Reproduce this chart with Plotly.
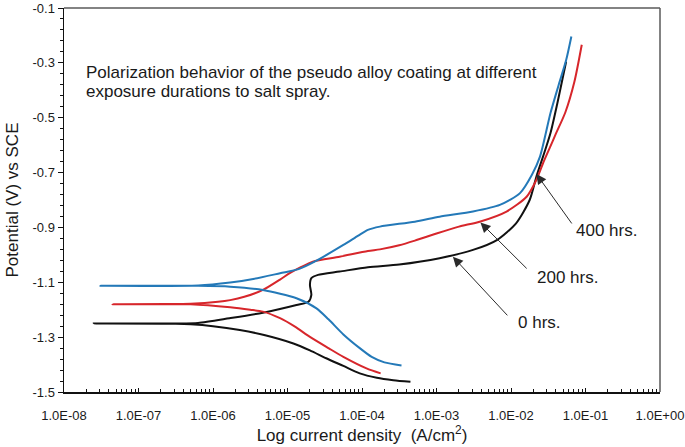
import math
import plotly.graph_objects as go

# ---------------- data (current density A/cm^2, potential V vs SCE) ----------------
# 0 hrs (black)
i0_anodic = [2.51e-8, 3.16e-7, 6.31e-7, 1.66e-6, 4.68e-6, 1.32e-5, 1.91e-5, 2.09e-5, 2.0e-5, 2.09e-5,
             2.57e-5, 5.01e-5, 1.20e-4, 3.16e-4, 1.10e-3, 3.09e-3, 6.46e-3, 1.17e-2, 1.78e-2, 2.19e-2,
             2.69e-2, 3.39e-2, 4.17e-2, 4.90e-2, 5.50e-2]
e0_anodic = [-1.250, -1.250, -1.248, -1.231, -1.211, -1.183, -1.171, -1.146, -1.110, -1.085,
             -1.073, -1.061, -1.045, -1.035, -1.012, -0.982, -0.946, -0.885, -0.800, -0.715,
             -0.642, -0.556, -0.450, -0.360, -0.295]
i0_cathodic = [2.51e-8, 3.16e-7, 5.01e-7, 1.0e-6, 2.29e-6, 5.01e-6, 1.20e-5, 2.0e-5, 3.31e-5, 5.62e-5,
               9.33e-5, 1.58e-4, 2.63e-4, 4.47e-4]
e0_cathodic = [-1.250, -1.251, -1.253, -1.260, -1.274, -1.293, -1.323, -1.348, -1.377, -1.405,
               -1.432, -1.448, -1.457, -1.463]

# 200 hrs (red)
i200_anodic = [4.47e-8, 5.01e-7, 1.17e-6, 1.70e-6, 2.63e-6, 4.68e-6, 7.94e-6, 1.07e-5, 1.51e-5, 2.19e-5,
               5.01e-5, 1.20e-4, 1.74e-4, 3.16e-4, 5.13e-4, 1.0e-3, 2.0e-3, 3.80e-3, 8.71e-3, 1.62e-2,
               2.19e-2, 2.69e-2, 3.31e-2, 3.98e-2, 5.37e-2, 7.08e-2, 8.91e-2]
e200_anodic = [-1.180, -1.178, -1.171, -1.165, -1.153, -1.128, -1.090, -1.067, -1.045, -1.025,
               -1.007, -0.986, -0.980, -0.965, -0.948, -0.922, -0.897, -0.879, -0.842, -0.788,
               -0.727, -0.666, -0.610, -0.560, -0.480, -0.370, -0.234]
i200_cathodic = [4.47e-8, 5.01e-7, 1.70e-6, 3.16e-6, 4.68e-6, 7.94e-6, 1.26e-5, 2.0e-5, 3.55e-5, 5.62e-5,
                 1.15e-4, 1.78e-4]
e200_cathodic = [-1.180, -1.180, -1.191, -1.200, -1.207, -1.231, -1.262, -1.299, -1.340, -1.372,
                 -1.414, -1.432]

# 400 hrs (blue)
i400_anodic = [3.09e-8, 6.31e-7, 1.70e-6, 3.47e-6, 7.94e-6, 1.41e-5, 2.45e-5, 5.62e-5, 8.91e-5, 1.20e-4,
               1.74e-4, 5.13e-4, 1.10e-3, 3.09e-3, 7.08e-3, 1.32e-2, 1.91e-2, 2.45e-2, 3.39e-2, 4.37e-2,
               5.50e-2, 6.46e-2]
e400_anodic = [-1.113, -1.112, -1.101, -1.088, -1.067, -1.052, -1.021, -0.964, -0.930, -0.909,
               -0.897, -0.879, -0.861, -0.842, -0.818, -0.775, -0.708, -0.642, -0.483, -0.380,
               -0.290, -0.204]
i400_cathodic = [3.09e-8, 6.31e-7, 1.70e-6, 4.68e-6, 1.32e-5, 2.45e-5, 3.55e-5, 5.62e-5, 9.33e-5, 1.35e-4,
                 2.0e-4, 3.39e-4]
e400_cathodic = [-1.113, -1.113, -1.116, -1.128, -1.158, -1.195, -1.235, -1.290, -1.340, -1.372,
                 -1.392, -1.403]

# annotation labels: text, arrow tip (i, E), arrow tail (i, E), text anchor (i, E)
label_text = ["400 hrs.", "200 hrs.", "0 hrs."]
label_tip_i = [2.19e-2, 3.89e-3, 1.66e-3]
label_tip_e = [-0.705, -0.882, -1.007]
label_tail_i = [6.76e-2, 1.70e-2, 9.33e-3]
label_tail_e = [-0.891, -1.055, -1.226]
label_pos_i = [7.0e-2, 2.09e-2, 1.16e-2]
label_pos_e = [-0.913, -1.081, -1.248]

x_tickvals = [1e-8, 1e-7, 1e-6, 1e-5, 1e-4, 1e-3, 1e-2, 1e-1, 1e0]
x_ticktext = ["1.0E-08", "1.0E-07", "1.0E-06", "1.0E-05", "1.0E-04", "1.0E-03", "1.0E-02", "1.0E-01", "1.0E+00"]
y_tickvals = [-1.5, -1.3, -1.1, -0.9, -0.7, -0.5, -0.3, -0.1]
y_ticktext = ["-1.5", "-1.3", "-1.1", "-0.9", "-0.7", "-0.5", "-0.3", "-0.1"]

title_lines = ["Polarization behavior of the pseudo alloy coating at different",
               "exposure durations to salt spray."]

FONT = "Liberation Sans, Arial, sans-serif"
TXT = "#1a1a1a"

series = [
    ("0 hrs", i0_anodic, e0_anodic, i0_cathodic, e0_cathodic, "#111111"),
    ("200 hrs", i200_anodic, e200_anodic, i200_cathodic, e200_cathodic, "#d7262b"),
    ("400 hrs", i400_anodic, e400_anodic, i400_cathodic, e400_cathodic, "#2479b8"),
]

fig = go.Figure()
for name, ia, ea, ic, ec, col in series:
    xs = list(reversed(ic)) + ia[1:]
    ys = list(reversed(ec)) + ea[1:]
    fig.add_trace(go.Scatter(x=xs, y=ys, mode="lines", name=name,
                             line=dict(color=col, width=2, shape="spline", smoothing=0.7),
                             showlegend=False, hoverinfo="skip"))

annotations = []
for t, ti, te, ai, ae, pi, pe in zip(label_text, label_tip_i, label_tip_e, label_tail_i,
                                     label_tail_e, label_pos_i, label_pos_e):
    annotations.append(dict(x=math.log10(ti), y=te, ax=math.log10(ai), ay=ae,
                            xref="x", yref="y", axref="x", ayref="y", text="",
                            showarrow=True, arrowhead=2, arrowsize=2.0, arrowwidth=1,
                            arrowcolor="#2a2a2a", standoff=0))
    annotations.append(dict(x=math.log10(pi), y=pe, xref="x", yref="y", text=t,
                            showarrow=False, xanchor="left", yanchor="middle",
                            font=dict(family=FONT, size=17, color=TXT)))

annotations.append(dict(x=0.034, y=0.833, xref="paper", yref="paper", text=title_lines[0],
                        showarrow=False, xanchor="left", yanchor="middle",
                        font=dict(family=FONT, size=17, color=TXT)))
annotations.append(dict(x=0.034, y=0.783, xref="paper", yref="paper", text=title_lines[1],
                        showarrow=False, xanchor="left", yanchor="middle",
                        font=dict(family=FONT, size=17, color=TXT)))

fig.update_layout(
    width=685, height=447,
    margin=dict(l=64, r=25, t=8, b=55, autoexpand=False),
    paper_bgcolor="white", plot_bgcolor="white",
    font=dict(family=FONT, color=TXT),
    annotations=annotations,
    shapes=[
        dict(type="line", xref="paper", yref="paper", x0=0, x1=1, y0=1, y1=1,
             line=dict(color="#5a5a5a", width=1.5)),
        dict(type="line", xref="paper", yref="paper", x0=1, x1=1, y0=0, y1=1,
             line=dict(color="#5a5a5a", width=1.5)),
    ],
)

fig.update_xaxes(
    type="log", range=[-8, 0], automargin=False,
    tickvals=x_tickvals, ticktext=x_ticktext,
    tickfont=dict(family=FONT, size=13, color=TXT),
    ticks="inside", ticklen=4, tickcolor="#111", tickwidth=1,
    minor=dict(ticks="inside", ticklen=3, dtick="D1", tickcolor="#111", tickwidth=1, showgrid=False),
    showline=True, linecolor="#111", linewidth=1.5,
    showgrid=False, zeroline=False,
    ticklabelstandoff=11,
    title=dict(text="Log current density &nbsp;(A/cm<sup>2</sup>)",
               font=dict(family=FONT, size=17, color=TXT), standoff=5),
)

fig.update_yaxes(
    range=[-1.5, -0.1], automargin=False,
    tickvals=y_tickvals, ticktext=y_ticktext,
    tickfont=dict(family=FONT, size=13, color=TXT),
    ticks="outside", ticklen=5, tickcolor="#111", tickwidth=1,
    minor=dict(ticks="outside", ticklen=3, dtick=0.04, tick0=-0.1, tickcolor="#111", tickwidth=1, showgrid=False),
    showline=True, linecolor="#111", linewidth=1.5,
    showgrid=False, zeroline=False,
    title=dict(text="Potential (V) vs SCE",
               font=dict(family=FONT, size=17, color=TXT), standoff=9),
)

fig.write_html("out.html",
               config={"displayModeBar": False, "staticPlot": True},
               post_script="document.body.style.margin='0';document.body.style.overflow='hidden';")
